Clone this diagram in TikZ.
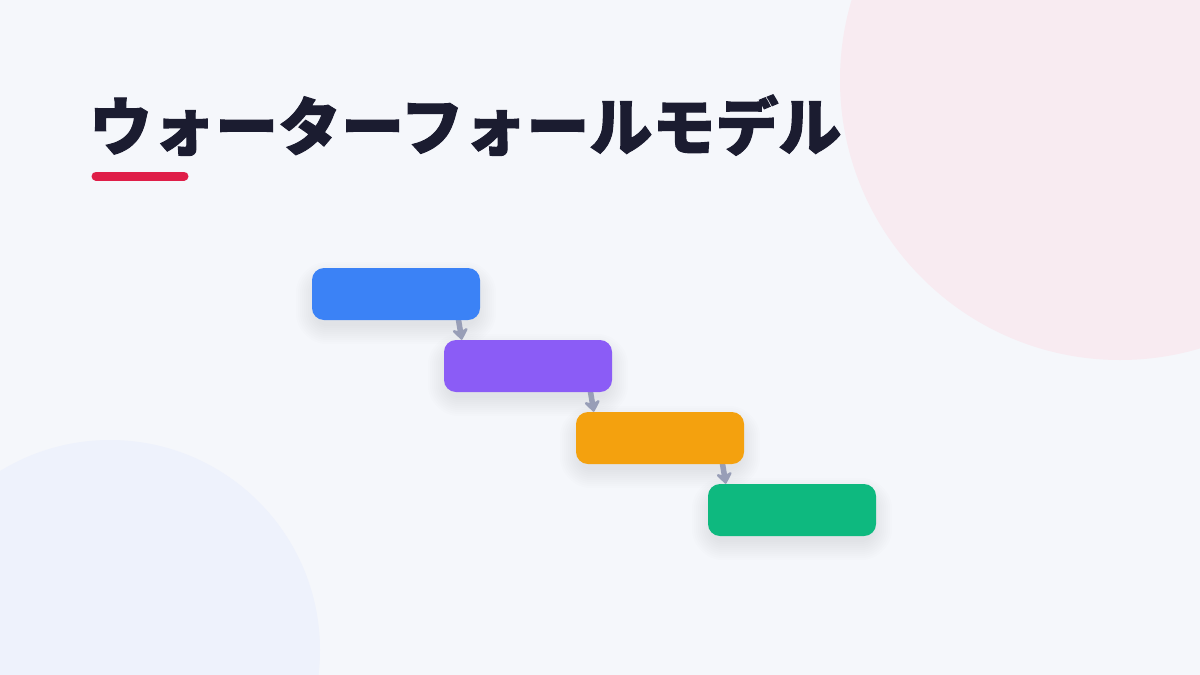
\documentclass[tikz,border=0pt]{standalone}
\usepackage{fontspec}
\newfontfamily\cjk{Noto Sans CJK JP}[BoldFeatures={FakeBold=1.6}]
\usetikzlibrary{arrows.meta,backgrounds}
\definecolor{bg}{HTML}{F5F7FB}
\definecolor{pinkc}{HTML}{F8EBF1}
\definecolor{bluec}{HTML}{EEF2FC}
\definecolor{ttl}{HTML}{1B1C30}
\definecolor{redu}{HTML}{DF1E48}
\definecolor{c1}{HTML}{3B82F6}
\definecolor{c2}{HTML}{8B5CF6}
\definecolor{c3}{HTML}{F4A10E}
\definecolor{c4}{HTML}{0EB97F}
\definecolor{arrc}{HTML}{989EB7}
\definecolor{shd}{HTML}{2A3050}
\tikzset{
  phase/.style={rounded corners=12pt, minimum width=168pt, minimum height=52pt, inner sep=0pt},
  arr/.style={draw=arrc, line width=5.5pt, -{Stealth[length=13pt,width=19pt,inset=4pt,round]}}
}
\newcommand{\mysoftshadow}[1]{%
  \foreach \r in {2,4,...,20}{%
    \fill[shd, opacity=0.007, rounded corners=12pt+\r pt]
      ([xshift=-\r pt+4pt, yshift=\r pt-14pt]#1.north west) rectangle ([xshift=\r pt-4pt, yshift=-\r pt-4pt]#1.south east);
  }%
}
\begin{document}
\begin{tikzpicture}[x=1pt,y=-1pt]
\node[phase, fill=c1] (b1) at (396,294) {};
\node[phase, fill=c2] (b2) at (528,366) {};
\node[phase, fill=c3] (b3) at (660,438) {};
\node[phase, fill=c4] (b4) at (792,510) {};
\begin{scope}[on background layer]
\fill[bg] (0,0) rectangle (1200,675);
\begin{scope}
\clip (0,0) rectangle (1200,675);
\fill[pinkc] (1120,80) circle[radius=280];
\fill[bluec] (110,650) circle[radius=210];
\end{scope}
\mysoftshadow{b1}
\mysoftshadow{b2}
\mysoftshadow{b3}
\mysoftshadow{b4}
\end{scope}
\node[anchor=base west, inner sep=0pt, text=ttl, font=\cjk\bfseries\fontsize{63}{70}\selectfont] (title) at (89,150) {ウォーターフォールモデル};
\coordinate (ul1) at (96,176);
\coordinate (ul2) at (184,176);
\draw[redu, line width=9pt, line cap=round] (ul1) -- (ul2);
\begin{scope}[on background layer]
\draw[arr] ([xshift=-22pt,yshift=2pt]b1.south east) -- ([xshift=18pt]b2.north west);
\draw[arr] ([xshift=-22pt,yshift=2pt]b2.south east) -- ([xshift=18pt]b3.north west);
\draw[arr] ([xshift=-22pt,yshift=2pt]b3.south east) -- ([xshift=18pt]b4.north west);
\end{scope}
\useasboundingbox (0,0) rectangle (1200,675);
\end{tikzpicture}
\end{document}
